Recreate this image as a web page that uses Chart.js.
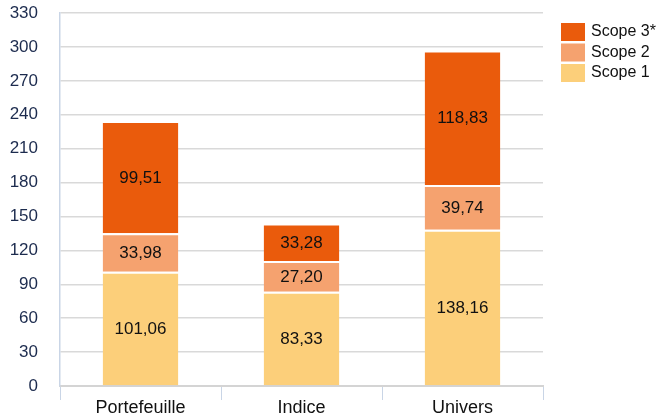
<!DOCTYPE html>
<html>
<head>
<meta charset="utf-8">
<script src="https://cdn.jsdelivr.net/npm/chart.js@4"></script>
<style>
  body { margin: 0; background: #fff; }
  #wrap { width: 662px; height: 414px; }
</style>
</head>
<body>
<div id="wrap"><canvas id="chart"></canvas></div>
<script>
const categories = ['Portefeuille', 'Indice', 'Univers'];
const scope1 = [101.06, 83.33, 138.16];
const scope2 = [33.98, 27.2, 39.74];
const scope3 = [99.51, 33.28, 118.83];
const yTicks = [0, 30, 60, 90, 120, 150, 180, 210, 240, 270, 300, 330];

const font = 'Liberation Sans, Arial, sans-serif';

// draws the values in the middle of each segment
const segmentLabels = {
  id: 'segmentLabels',
  afterDatasetsDraw(chart) {
    const ctx = chart.ctx;
    ctx.save();
    ctx.font = '17px ' + font;
    ctx.fillStyle = '#111';
    ctx.textAlign = 'center';
    ctx.textBaseline = 'middle';
    chart.data.datasets.forEach((ds, i) => {
      chart.getDatasetMeta(i).data.forEach((bar, j) => {
        const txt = ds.data[j].toFixed(2).replace('.', ',');
        ctx.fillText(txt, bar.x, (bar.y + bar.base) / 2 + 1);
      });
    });
    ctx.restore();
  }
};

// legend on the right, top item is the last dataset
const sideLegend = {
  id: 'sideLegend',
  afterDraw(chart) {
    const ctx = chart.ctx;
    ctx.save();
    ctx.font = '16px ' + font;
    ctx.textBaseline = 'middle';
    const items = chart.data.datasets.slice().reverse();
    items.forEach((ds, i) => {
      const y = 23 + i * 20.5;
      ctx.fillStyle = ds.backgroundColor;
      ctx.fillRect(561, y, 24, 18);
      ctx.fillStyle = '#111';
      ctx.fillText(ds.label, 591, y + 9);
    });
    ctx.restore();
  }
};

new Chart(document.getElementById('chart'), {
  type: 'bar',
  data: {
    labels: categories,
    datasets: [
      { label: 'Scope 1', data: scope1, backgroundColor: '#fccf7a' },
      { label: 'Scope 2', data: scope2, backgroundColor: '#f5a26f' },
      { label: 'Scope 3*', data: scope3, backgroundColor: '#ea5b0c' }
    ]
  },
  options: {
    responsive: true,
    maintainAspectRatio: false,
    animation: false,
    layout: { padding: { top: 13, right: 119, bottom: 0, left: 0 } },
    datasets: {
      bar: {
        categoryPercentage: 1,
        barPercentage: 0.47,
        borderColor: '#fff',
        borderWidth: { top: 2, left: 0, right: 0, bottom: 0 },
        borderSkipped: false
      }
    },
    plugins: {
      legend: { display: false },
      tooltip: { enabled: false }
    },
    scales: {
      x: {
        stacked: true,
        afterFit(scale) {
          scale.height = 28;
          scale.paddingLeft = 0;
          scale.paddingRight = 0;
        },
        grid: {
          drawOnChartArea: false,
          drawTicks: true,
          tickLength: 14,
          color: '#c9d5e6',
          offset: true
        },
        border: { color: '#d4d4d4', width: 2 },
        ticks: { font: { family: font, size: 18 }, color: '#111', padding: -3 }
      },
      y: {
        stacked: true,
        min: 0,
        max: 330,
        afterFit(scale) {
          scale.width = 60;
          scale.paddingTop = 0;
          scale.paddingBottom = 0;
        },
        afterBuildTicks(scale) { scale.ticks = yTicks.map(v => ({ value: v })); },
        grid: { color: '#d9d9d9', lineWidth: 1.5, drawTicks: false },
        border: { color: '#c9d5e6', width: 1.5 },
        ticks: { font: { family: font, size: 17 }, color: '#1c2b4e', padding: 22 }
      }
    }
  },
  plugins: [segmentLabels, sideLegend]
});
</script>
</body>
</html>
